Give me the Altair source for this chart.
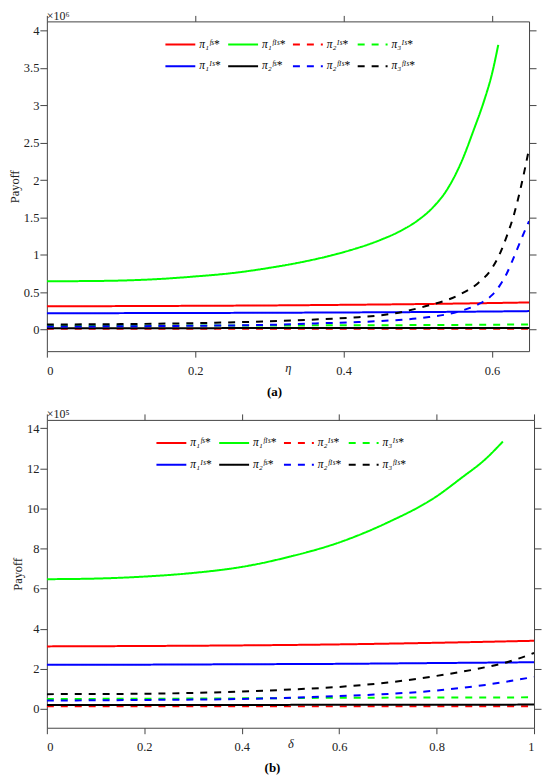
import altair as alt
import pandas as pd

# legend entries, listed column by column (legend fills columns first)
SERIES = ["π₁ᶠˢ*", "π₁ᴵˢ*", "π₁ᶠᴵˢ*", "π₂ᶠˢ*", "π₂ᴵˢ*", "π₂ᶠᴵˢ*", "π₃ᴵˢ*", "π₃ᶠᴵˢ*"]
COLORS = ["#ff0000", "#0000ff", "#00ff00", "#000000", "#ff0000", "#0000ff", "#00ff00", "#000000"]
DASHES = [[1, 0], [1, 0], [1, 0], [1, 0], [7, 7], [7, 7], [7, 7], [7, 7]]

# ---- panel (a): payoff (x10^6) vs eta ----
a_eta_flat = [0, 0.1, 0.2, 0.3, 0.4, 0.5, 0.6, 0.65]
a_pi1_FS = [0.311, 0.313, 0.317, 0.322, 0.330, 0.340, 0.354, 0.362]
a_pi1_IS = [0.218, 0.219, 0.221, 0.224, 0.228, 0.233, 0.241, 0.246]
a_pi2_FS = [0.018, 0.018, 0.018, 0.019, 0.019, 0.019, 0.020, 0.020]
a_pi2_IS = [0.010, 0.010, 0.010, 0.010, 0.011, 0.011, 0.011, 0.011]
a_pi3_IS = [0.050, 0.051, 0.052, 0.054, 0.056, 0.059, 0.064, 0.067]

a_eta_green = [0, 0.05, 0.1, 0.15, 0.2, 0.25, 0.3, 0.35, 0.4, 0.45, 0.475, 0.5,
               0.52, 0.54, 0.56, 0.575, 0.59, 0.6, 0.6085]
a_pi1_FIS = [0.645, 0.648, 0.655, 0.675, 0.71, 0.755, 0.825, 0.915, 1.035, 1.2, 1.31, 1.46,
             1.63, 1.88, 2.27, 2.66, 3.08, 3.42, 3.81]

a_eta_rise = [0, 0.1, 0.2, 0.3, 0.375, 0.42, 0.465, 0.51, 0.555, 0.58, 0.6, 0.61, 0.62, 0.63, 0.64, 0.65]
a_pi3_FIS = [0.067, 0.072, 0.085, 0.11, 0.14, 0.165, 0.21, 0.31, 0.46, 0.61, 0.82, 1.0, 1.25, 1.55, 1.95, 2.42]
a_pi2_FIS = [0.040, 0.043, 0.050, 0.062, 0.085, 0.10, 0.122, 0.16, 0.24, 0.33, 0.46, 0.58, 0.75, 0.98, 1.22, 1.45]

# ---- panel (b): payoff (x10^5) vs delta ----
b_delta_flat = [0, 0.2, 0.4, 0.6, 0.8, 1.0]
b_pi1_FS = [3.12, 3.14, 3.17, 3.22, 3.30, 3.40]
b_pi1_IS = [2.20, 2.21, 2.23, 2.25, 2.29, 2.33]
b_pi2_FS = [0.20, 0.20, 0.20, 0.21, 0.21, 0.22]
b_pi2_IS = [0.13, 0.13, 0.13, 0.13, 0.14, 0.14]
b_pi3_IS = [0.50, 0.51, 0.53, 0.56, 0.57, 0.58]

b_delta_green = [0, 0.1, 0.2, 0.3, 0.4, 0.5, 0.6, 0.7, 0.8, 0.85, 0.9, 0.936]
b_pi1_FIS = [6.47, 6.50, 6.60, 6.78, 7.08, 7.60, 8.30, 9.30, 10.6, 11.5, 12.45, 13.33]

b_delta_rise = [0, 0.2, 0.4, 0.5, 0.6, 0.7, 0.8, 0.9, 0.94, 1.0]
b_pi3_FIS = [0.74, 0.76, 0.87, 0.97, 1.10, 1.32, 1.65, 2.08, 2.30, 2.79]
b_pi2_FIS = [0.42, 0.45, 0.50, 0.56, 0.65, 0.75, 0.92, 1.20, 1.35, 1.60]

a_xticks = [0, 0.2, 0.4, 0.6]
a_yticks = [0, 0.5, 1, 1.5, 2, 2.5, 3, 3.5, 4]
b_xticks = [0, 0.2, 0.4, 0.6, 0.8, 1]
b_yticks = [0, 2, 4, 6, 8, 10, 12, 14]


def frame(pairs):
    rows = []
    for name, xs, ys in pairs:
        for xv, yv in zip(xs, ys):
            rows.append({"x": xv, "y": yv, "series": name})
    return pd.DataFrame(rows)


df_a = frame([
    ("π₁ᶠˢ*", a_eta_flat, a_pi1_FS),
    ("π₁ᶠᴵˢ*", a_eta_green, a_pi1_FIS),
    ("π₂ᴵˢ*", a_eta_flat, a_pi2_IS),
    ("π₃ᴵˢ*", a_eta_flat, a_pi3_IS),
    ("π₁ᴵˢ*", a_eta_flat, a_pi1_IS),
    ("π₂ᶠˢ*", a_eta_flat, a_pi2_FS),
    ("π₂ᶠᴵˢ*", a_eta_rise, a_pi2_FIS),
    ("π₃ᶠᴵˢ*", a_eta_rise, a_pi3_FIS),
])
df_b = frame([
    ("π₁ᶠˢ*", b_delta_flat, b_pi1_FS),
    ("π₁ᶠᴵˢ*", b_delta_green, b_pi1_FIS),
    ("π₂ᴵˢ*", b_delta_flat, b_pi2_IS),
    ("π₃ᴵˢ*", b_delta_flat, b_pi3_IS),
    ("π₁ᴵˢ*", b_delta_flat, b_pi1_IS),
    ("π₂ᶠˢ*", b_delta_flat, b_pi2_FS),
    ("π₂ᶠᴵˢ*", b_delta_rise, b_pi2_FIS),
    ("π₃ᶠᴵˢ*", b_delta_rise, b_pi3_FIS),
])

FONT = "Liberation Serif"


def panel(df, xdom, xticks, ydom, yticks, w, h, xtitle, mult, legx, legy, rowpad,
          caption, cap_x, cap_y):
    xs = alt.Scale(domain=xdom, nice=False, zero=False)
    ys = alt.Scale(domain=ydom, nice=False, zero=False)
    leg = alt.Legend(orient="none", legendX=legx, legendY=legy, columns=4, title=None,
                     symbolType="stroke", symbolSize=900, symbolStrokeWidth=2,
                     labelFont=FONT, labelFontSize=11.5, labelFontStyle="italic", labelOffset=3,
                     columnPadding=4, rowPadding=rowpad, labelColor="#000")
    lines = alt.Chart(df).mark_line(strokeWidth=2, clip=True, interpolate="monotone").encode(
        x=alt.X("x:Q", scale=xs,
                axis=alt.Axis(orient="bottom", values=xticks, format="~g", title=xtitle,
                              titleFontStyle="italic", titleBaseline="middle", titleY=16,
                              labelPadding=7, tickSize=6)),
        y=alt.Y("y:Q", scale=ys,
                axis=alt.Axis(orient="left", values=yticks, format="~g", title="Payoff",
                              labelPadding=1, tickSize=7, titlePadding=1.5)),
        color=alt.Color("series:N", scale=alt.Scale(domain=SERIES, range=COLORS), legend=leg),
        strokeDash=alt.StrokeDash("series:N", scale=alt.Scale(domain=SERIES, range=DASHES), legend=leg),
    )
    mirror = alt.Chart(df).mark_point(opacity=0).encode(
        x=alt.X("x:Q", scale=xs,
                axis=alt.Axis(orient="top", values=xticks, labels=False, title=None, tickSize=6)),
        y=alt.Y("y:Q", scale=ys,
                axis=alt.Axis(orient="right", values=yticks, labels=False, title=None, tickSize=7)),
    )
    cap = alt.Chart(df).mark_point(opacity=0).encode(
        x=alt.X("x:Q", scale=xs,
                axis=alt.Axis(orient="bottom", title=caption, domain=False, ticks=False, labels=False,
                              titleFontWeight="bold", titleFontStyle="normal", titleFontSize=13,
                              titleColor="#000", titleBaseline="middle", titleX=cap_x, titleY=cap_y)),
        y=alt.Y("y:Q", scale=ys, axis=None),
    )
    return alt.layer(lines, mirror, cap).resolve_axis(x="independent", y="independent").properties(
        width=w, height=h,
        title=alt.TitleParams(mult, anchor="start", frame="group", font=FONT, fontSize=12,
                              fontWeight="normal", color="#222", offset=-8),
    )


pa = panel(df_a, [0, 0.65], a_xticks, [-0.29, 4.124], a_yticks, 484, 331, "η", "×10⁶",
           118, 7, -13, "(a)", 228, 41)
pb = panel(df_b, [0, 1], b_xticks, [-0.935, 14.41], b_yticks, 489, 309, "δ", "×10⁵",
           109, 7, -16, "(b)", 226, 40)

chart = alt.vconcat(pa, pb, spacing=9).resolve_scale(
    x="independent", y="independent", color="independent", strokeDash="independent"
).properties(
    padding={"left": 0, "top": 0, "right": 0, "bottom": 0}
).configure_view(stroke=None).configure_axis(
    labelFont=FONT, labelFontSize=12.5, titleFont=FONT, titleFontSize=12.5, titleFontWeight="normal",
    domainColor="#444", tickColor="#444", labelColor="#222", titleColor="#222", grid=False,
)

chart.save("out.html", embed_options={"renderer": "svg", "actions": False})
